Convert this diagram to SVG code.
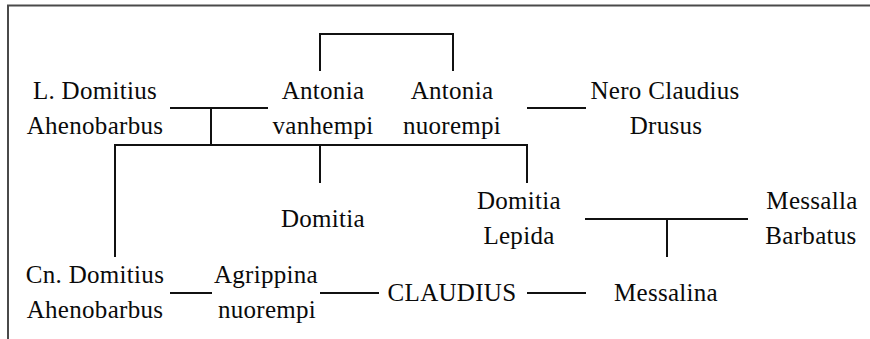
<svg xmlns="http://www.w3.org/2000/svg" width="870" height="339" viewBox="0 0 870 339">
<style>
text{font-family:"Liberation Serif","Times New Roman",serif;font-size:25px;letter-spacing:0.3px;fill:#0a0a0a;text-anchor:middle}
.c{fill:none;stroke:#111;stroke-width:2}
.frame{fill:none;stroke:#4a4a4a;stroke-width:2}
</style>
<rect width="870" height="339" fill="#fff"/>
<path class="frame" d="M8,339 V5.5 H870"/>
<g id="connectors">
<path class="c" d="M320,71 V34 H453 V71"/>
<path class="c" d="M170,108 H268"/>
<path class="c" d="M211,108 V145"/>
<path class="c" d="M115,257 V145 H527 V183"/>
<path class="c" d="M320,145 V183"/>
<path class="c" d="M527,108 H586"/>
<path class="c" d="M585,219 H748"/>
<path class="c" d="M667,219 V257"/>
<path class="c" d="M170,293 H212"/>
<path class="c" d="M320,293 H379"/>
<path class="c" d="M527,293 H586"/>
</g>
<g id="l-domitius"><text x="95" y="99">L. Domitius</text><text x="95" y="134">Ahenobarbus</text></g>
<g id="antonia-vanhempi"><text x="323" y="99">Antonia</text><text x="323" y="134">vanhempi</text></g>
<g id="antonia-nuorempi"><text x="452" y="99">Antonia</text><text x="452" y="134">nuorempi</text></g>
<g id="nero-claudius"><text x="665" y="99">Nero Claudius</text><text x="666" y="134">Drusus</text></g>
<g id="domitia"><text x="323" y="227">Domitia</text></g>
<g id="domitia-lepida"><text x="519" y="209">Domitia</text><text x="519" y="244">Lepida</text></g>
<g id="messalla"><text x="812" y="209">Messalla</text><text x="811" y="244">Barbatus</text></g>
<g id="cn-domitius"><text x="95" y="283">Cn. Domitius</text><text x="95" y="318">Ahenobarbus</text></g>
<g id="agrippina"><text x="266" y="283">Agrippina</text><text x="267" y="318">nuorempi</text></g>
<g id="claudius"><text x="452" y="301">CLAUDIUS</text></g>
<g id="messalina"><text x="666" y="301">Messalina</text></g>
</svg>
